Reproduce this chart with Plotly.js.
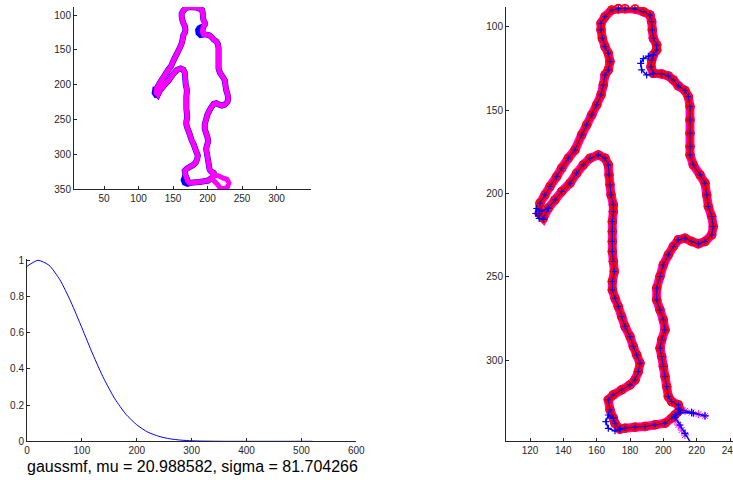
<!DOCTYPE html>
<html>
<head>
<meta charset="utf-8">
<script src="https://cdn.plot.ly/plotly-3.0.1.min.js"></script>
<style>html,body{margin:0;padding:0;background:#fff;}#chart{width:733px;height:480px;}</style>
</head>
<body>
<div id="chart"></div>
<script>
// Main silhouette contour (image coordinates)
const contourX = [173,177,183,188,192,193,193.4,194,196,196,194,193,192.6,194,199,203,206,209,213,215,216,216,216,216,216,218,222,225,226,227,229,230,229,225,221,217,213,209,206,203,200,198,196,196,198,200,201,199,198,199,200,201,202,203,205,209,210,207,205,201,195,189,183,177,174,171,170,168,167,170,175,180,183,185,186,184,182,180,177,175,173,171,169.4,169.4,170.6,170,169.4,169.4,169.4,169.4,170,170,168.6,168,167.4,167,165,161,156,152,148,144,139,135,131,128,125.5,126,129,132,136,139,143,147,151,154,157,160,162.6,164,165,167,168,167,165,163.4,162.6,162.6,165,169,173];
const contourY = [89,89,89.2,90.8,92.8,96.8,101.8,106.8,110.8,113.8,116.8,120,124,127.8,128.2,129.4,131.8,135.4,138.2,141.8,147.8,155.8,163.8,171.8,176.8,182.8,188.8,193.8,200.8,207.8,213.8,219.8,224.8,228.8,230.2,228.8,226.8,227.8,231.8,236.8,242.8,249.8,256.8,263.9,269.9,275.9,281.9,287.9,292.9,297.9,303.9,309.9,315.9,321.9,324.9,326.9,330,332.9,334.9,337.9,338.9,339.9,340.3,340.9,341.5,338,334.9,329.9,323.9,320.9,317.9,314.9,311.9,306.9,301.9,296.9,291.9,285.9,279.9,273.9,267.9,262.9,257.9,252.8,246.8,240.8,234.8,228.8,222.8,216.8,210.8,206.8,200.8,194.8,188.8,182.8,178.8,176.8,178.8,182.8,187.8,193.8,198.8,203.8,208.8,214.8,212,205.8,200.8,195.8,189.8,184.8,178.8,173.8,164.8,158.8,152.8,146.8,140.8,134.8,128.8,125.8,120.8,115.8,111.8,106.8,101.8,97.8,93.8,89.8,89];

// Deviations of the second (blue) contour
const neckLoopX = [194,191,188,186.4,187,190,194];
const neckLoopY = [116.8,117.5,119,121.8,125.8,128.8,128.2];
const handLoopX = [131,127,124,123.5,125.5,128];
const handLoopY = [208.8,210.5,209,212,215,215.5];
const heelLoopX = [170,167,165.5,167,171,174];
const heelLoopY = [334.9,333,337,341,342.5,341.5];
const toeX = [209,217,225,218,210,207,210,213,216];
const toeY = [329.5,331.5,333.5,332,331.5,334.3,339,344,348.9];
const toeStarX = [213,217,221,225,207,209,211,213,215];
const toeStarY = [330.5,331.5,332.5,333.5,336,339,342,345,348.9];
// Toe loop of the small (top-left) contour
const smallToeX = [205,210,216,222,228,231,229,224,218,214,210,207,205];
const smallToeY = [333,330,331,334,336,341,347,350,348,343,339,336,333];

// gaussmf curve
const gaussX = [0,20,40,60,80,100,120,140,160,180,200,220,240,260,280,300,320,340,360,400,440,480,520];
const gaussY = [0.967,1.0,0.973,0.892,0.770,0.627,0.480,0.346,0.235,0.150,0.091,0.051,0.0275,0.0139,0.0066,0.0029,0.0012,0.0005,0,0,0,0,0];

const topXTicks = [50,100,150,200,250,300];
const topYTicks = [100,150,200,250,300,350];
const gaussXTicks = [0,100,200,300,400,500,600];
const gaussYTicks = [0,0.2,0.4,0.6,0.8,1];
const gaussYLabels = ['0','0.2','0.4','0.6','0.8','1'];
const rightXTicks = [120,140,160,180,200,220,240];
const rightYTicks = [100,150,200,250,300];
const titleText = 'gaussmf, mu = 20.988582, sigma = 81.704266';

const axCol = '#262626';
function ax(extra) {
  return Object.assign({
    showline: true, linecolor: axCol, linewidth: 1,
    ticks: 'inside', ticklen: 3, tickcolor: axCol, tickwidth: 1,
    showgrid: false, zeroline: false, mirror: false,
    tickfont: {family: 'Liberation Sans, Arial, sans-serif', size: 10, color: axCol},
    ticklabeloverflow: 'allow',
    fixedrange: true
  }, extra);
}
function ln(color, width, extra) {
  return Object.assign({color: color, width: width, simplify: false}, extra || {});
}

const traces = [];
// Top-left
traces.push({x: contourX, y: contourY, xaxis: 'x', yaxis: 'y', mode: 'lines', line: ln('#0000ff', 6), hoverinfo: 'skip'});
[[neckLoopX, neckLoopY],[handLoopX, handLoopY],[heelLoopX, heelLoopY]].forEach(p => {
  traces.push({x: p[0], y: p[1], xaxis: 'x', yaxis: 'y', mode: 'lines', line: ln('#0000ff', 6), hoverinfo: 'skip'});
});
traces.push({x: contourX, y: contourY, xaxis: 'x', yaxis: 'y', mode: 'lines', line: ln('#ff00ff', 5), hoverinfo: 'skip'});
traces.push({x: smallToeX, y: smallToeY, xaxis: 'x', yaxis: 'y', mode: 'lines', line: ln('#ff00ff', 5), hoverinfo: 'skip'});

// Bottom-left gaussian
traces.push({x: gaussX, y: gaussY, xaxis: 'x2', yaxis: 'y2', mode: 'lines', line: {color: '#0000ff', width: 1, shape: 'spline', smoothing: 0.6}, hoverinfo: 'skip'});

// Right
traces.push({x: contourX, y: contourY, xaxis: 'x3', yaxis: 'y3', mode: 'lines+markers', line: ln('#ff00ff', 9),
  marker: {symbol: 'asterisk-open', size: 8, color: '#ff00ff', line: {color: '#ff00ff', width: 1}}, cliponaxis: false, hoverinfo: 'skip'});
traces.push({x: toeStarX, y: toeStarY, xaxis: 'x3', yaxis: 'y3', mode: 'markers',
  marker: {symbol: 'asterisk-open', size: 7, color: '#ff00ff', line: {color: '#ff00ff', width: 1}}, cliponaxis: false, hoverinfo: 'skip'});
traces.push({x: contourX, y: contourY, xaxis: 'x3', yaxis: 'y3', mode: 'lines+markers', line: ln('#ff0000', 6),
  marker: {symbol: 'circle-open', size: 8, color: '#ff0000', line: {color: '#ff0000', width: 1.5}}, cliponaxis: false, hoverinfo: 'skip'});
traces.push({x: contourX, y: contourY, xaxis: 'x3', yaxis: 'y3', mode: 'lines+markers', line: ln('#0000ff', 1),
  marker: {symbol: 'cross-thin-open', size: 4, color: '#0000ff', line: {color: '#0000ff', width: 1}}, cliponaxis: false, hoverinfo: 'skip'});
[[neckLoopX, neckLoopY],[handLoopX, handLoopY],[heelLoopX, heelLoopY],[toeX, toeY]].forEach(p => {
  traces.push({x: p[0], y: p[1], xaxis: 'x3', yaxis: 'y3', mode: 'lines+markers', line: ln('#0000ff', 1.5),
    marker: {symbol: 'cross-thin-open', size: 5, color: '#0000ff', line: {color: '#0000ff', width: 1.2}}, cliponaxis: false, hoverinfo: 'skip'});
});

const layout = {
  width: 733, height: 480,
  margin: {l: 0, r: 0, t: 0, b: 0},
  paper_bgcolor: '#ffffff', plot_bgcolor: '#ffffff',
  showlegend: false,
  xaxis: ax({domain: [74/733, 311/733], range: [6.5, 350], tickvals: topXTicks, anchor: 'y'}),
  yaxis: ax({domain: [1-189/480, 1-7/480], range: [350, 88.5], tickvals: topYTicks, anchor: 'x'}),
  xaxis2: ax({domain: [27/733, 356.3/733], range: [0, 600], tickvals: gaussXTicks, anchor: 'y2'}),
  yaxis2: ax({domain: [1-441.3/480, 1-258.5/480], range: [0, 1.01], tickvals: gaussYTicks, ticktext: gaussYLabels, tickmode: 'array', anchor: 'x2'}),
  xaxis3: ax({domain: [506/733, 1], range: [105.6, 241.8], tickvals: rightXTicks, anchor: 'y3'}),
  yaxis3: ax({domain: [1-441/480, 1-7/480], range: [348.6, 88], tickvals: rightYTicks, anchor: 'x3'}),
  annotations: [{
    text: titleText, xref: 'paper', yref: 'paper', x: 192/733, y: 1-466.5/480,
    xanchor: 'center', yanchor: 'middle', showarrow: false,
    font: {family: 'Liberation Sans, Arial, sans-serif', size: 16, color: '#000000'}
  }]
};

Plotly.newPlot('chart', traces, layout, {displayModeBar: false, staticPlot: true});
</script>
</body>
</html>
